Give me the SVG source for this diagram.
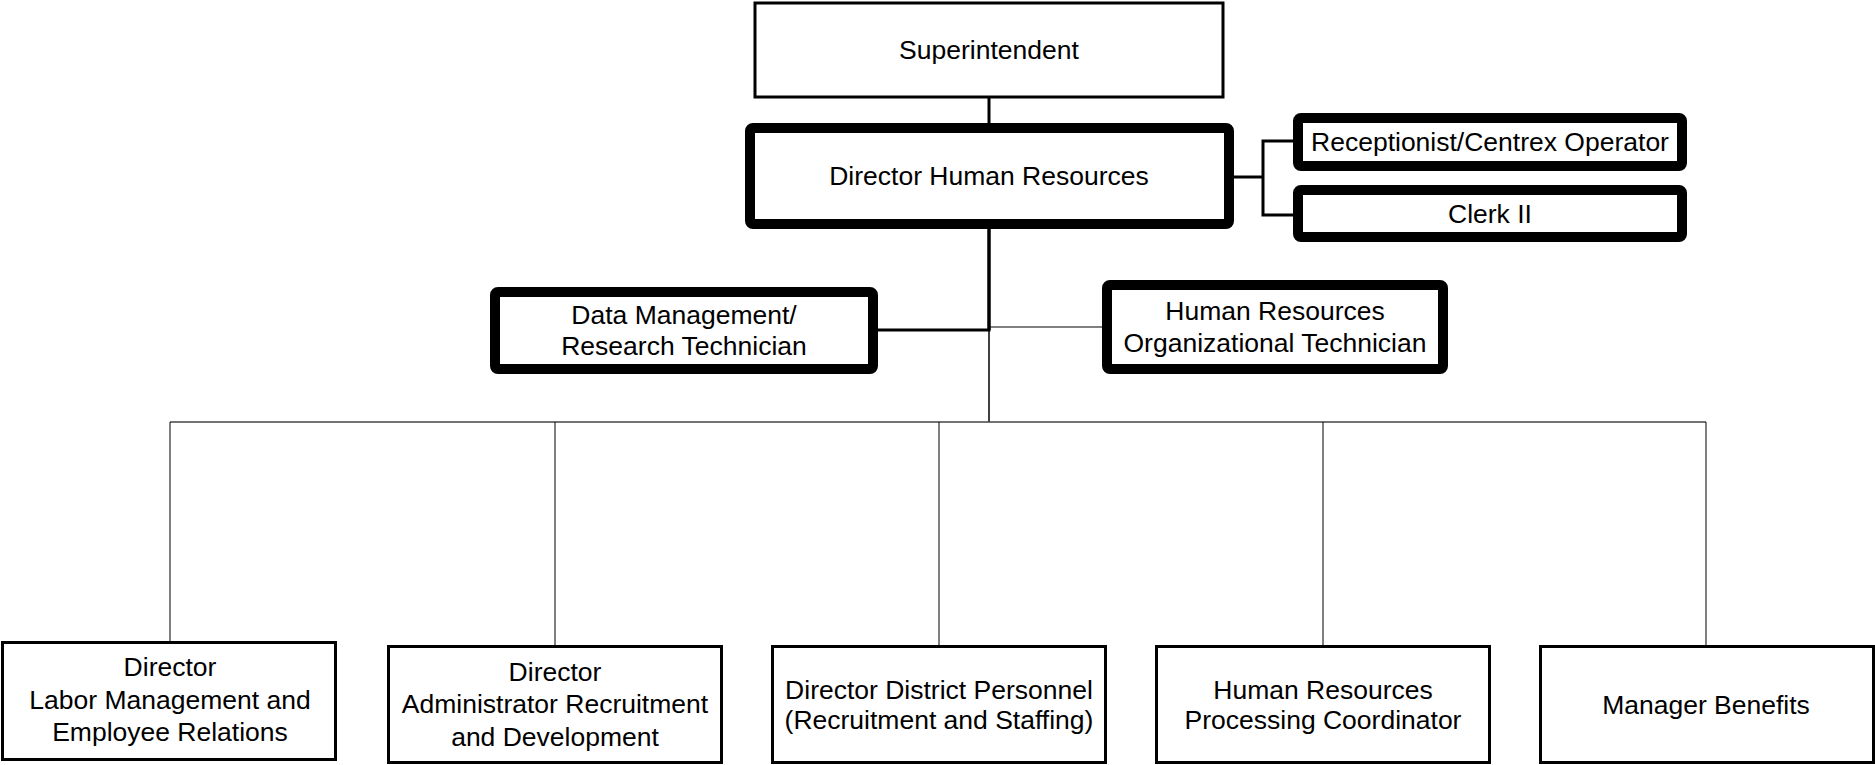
<svg xmlns="http://www.w3.org/2000/svg" width="1875" height="765" viewBox="0 0 1875 765">
<style>
text{font-family:"Liberation Sans",Arial,sans-serif;fill:#000;text-anchor:middle;font-size:26.5px}
.thin{fill:#fff;stroke:#000;stroke-width:3}
.thick{fill:#fff;stroke:#000;stroke-width:10}
.c3{stroke:#000;stroke-width:3;fill:none}
.c1{stroke:#000;stroke-width:1;fill:none}
.bus{stroke:#444;stroke-width:1.5;fill:none}
</style>
<rect width="1875" height="765" fill="#fff"/>
<g id="connectors">
<line class="c3" x1="989" y1="98" x2="989" y2="123"/>
<line class="c3" x1="989" y1="229" x2="989" y2="330" style="stroke-width:3.5"/>
<line class="c3" x1="878" y1="330" x2="990.5" y2="330"/>
<line class="c1" x1="989" y1="330" x2="989" y2="422" style="stroke-width:1.5"/>
<line class="c1" x1="989" y1="327" x2="1102" y2="327"/>
<line class="bus" x1="170" y1="422" x2="1706" y2="422"/>
<line class="c1" x1="170" y1="422" x2="170" y2="641"/>
<line class="c1" x1="555" y1="422" x2="555" y2="645"/>
<line class="c1" x1="939" y1="422" x2="939" y2="645"/>
<line class="c1" x1="1323" y1="422" x2="1323" y2="645"/>
<line class="c1" x1="1706" y1="422" x2="1706" y2="645"/>
<polyline class="c3" points="1234,177 1263,177"/>
<polyline class="c3" points="1293,141 1263,141 1263,215 1293,215"/>
</g>
<g id="superintendent">
<rect class="thin" x="755" y="3" width="468" height="94"/>
<text x="989" y="59">Superintendent</text>
</g>
<g id="director-hr">
<rect class="thick" x="750" y="128" width="479" height="96" rx="3"/>
<text x="989" y="185">Director Human Resources</text>
</g>
<g id="receptionist">
<rect class="thick" x="1298" y="118" width="384" height="48" rx="3"/>
<text x="1490" y="151">Receptionist/Centrex Operator</text>
</g>
<g id="clerk">
<rect class="thick" x="1298" y="190" width="384" height="47" rx="3"/>
<text x="1490" y="223">Clerk II</text>
</g>
<g id="data-management">
<rect class="thick" x="495" y="292" width="378" height="77" rx="3"/>
<text x="684" y="324">Data Management/</text>
<text x="684" y="355">Research Technician</text>
</g>
<g id="hr-org-tech">
<rect class="thick" x="1107" y="285" width="336" height="84" rx="3"/>
<text x="1275" y="320">Human Resources</text>
<text x="1275" y="352">Organizational Technician</text>
</g>
<g id="labor-management">
<rect class="thin" x="2.5" y="642.5" width="333" height="117"/>
<text x="170" y="676">Director</text>
<text x="170" y="708.5">Labor Management and</text>
<text x="170" y="741">Employee Relations</text>
</g>
<g id="admin-recruitment">
<rect class="thin" x="388.5" y="646.5" width="333" height="116"/>
<text x="555" y="681">Director</text>
<text x="555" y="713">Administrator Recruitment</text>
<text x="555" y="746">and Development</text>
</g>
<g id="district-personnel">
<rect class="thin" x="772.5" y="646.5" width="333" height="116"/>
<text x="939" y="699">Director District Personnel</text>
<text x="939" y="729">(Recruitment and Staffing)</text>
</g>
<g id="processing-coordinator">
<rect class="thin" x="1156.5" y="646.5" width="333" height="116"/>
<text x="1323" y="699">Human Resources</text>
<text x="1323" y="729">Processing Coordinator</text>
</g>
<g id="manager-benefits">
<rect class="thin" x="1540.5" y="646.5" width="333" height="116"/>
<text x="1706" y="714">Manager Benefits</text>
</g>
</svg>
